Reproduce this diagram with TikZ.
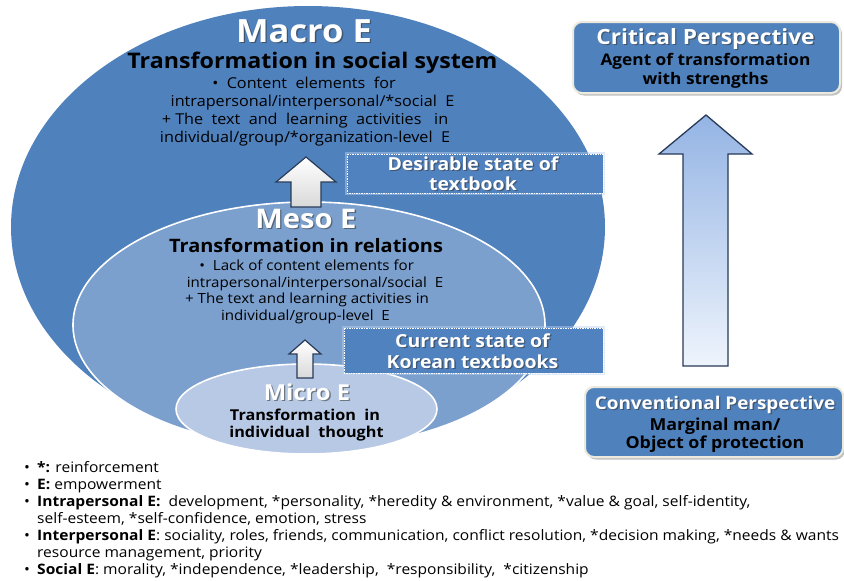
\documentclass[tikz,border=0pt]{standalone}
\usepackage{fontspec}
\setmainfont{Open Sans}[FakeStretch=1.08]
\usetikzlibrary{shapes.geometric,shadows}
\definecolor{macroblue}{RGB}{79,129,189}
\definecolor{mesoblue}{RGB}{123,160,206}
\definecolor{microblue}{RGB}{183,201,228}
\definecolor{boxblue}{RGB}{80,130,191}
\definecolor{glow}{RGB}{190,210,240}
\definecolor{edgecream}{RGB}{236,234,222}
\definecolor{arrowtop}{RGB}{148,180,228}
\definecolor{arrowbot}{RGB}{238,244,252}
\definecolor{navy}{RGB}{40,58,88}
\newcommand\shtitle[5]{%
  \node[anchor=base,inner sep=0pt,text=black!80,opacity=0.55,font=\bfseries\fontsize{#4}{#4}\selectfont] (#1s) at (#2+1.3,#3+1.3) {#5};
  \node[anchor=base,inner sep=0pt,text=white,font=\bfseries\fontsize{#4}{#4}\selectfont] (#1) at (#2,#3) {#5};}
\begin{document}
\begin{tikzpicture}[x=1pt,y=-1pt,
  txt/.style={anchor=base,inner sep=0pt,font=\fontsize{#1}{#1}\selectfont},
  bld/.style={anchor=base,inner sep=0pt,font=\bfseries\fontsize{#1}{#1}\selectfont},
  leg/.style={anchor=base west,inner sep=0pt,font=\fontsize{14.4}{14.4}\selectfont},
  lvl/.style={ellipse,inner sep=0pt,draw=white,line width=1.6pt},
  statebox/.style={rectangle,inner sep=0pt,fill=boxblue,draw=white,densely dotted,line width=0.7pt,
    preaction={draw=glow,solid,line width=4pt,opacity=0.45}},
  persp/.style={rectangle,rounded corners=9pt,inner sep=0pt,fill=macroblue,draw=edgecream,line width=2pt,
    drop shadow={shadow xshift=2pt,shadow yshift=-2.5pt,opacity=0.4,fill=black!60}},
  whitearrow/.style={draw=navy,line width=1.2pt,top color=white,bottom color=gray!30},
]
\useasboundingbox[fill=white] (0,0) rectangle (844,581);

% ellipses
\node[ellipse,inner sep=0pt,fill=macroblue,minimum width=594pt,minimum height=442pt] (macro) at (308,227) {};
\node[lvl,fill=mesoblue,minimum width=472pt,minimum height=246pt] (meso) at (309,325) {};
\node[lvl,fill=microblue,minimum width=261pt,minimum height=90pt] (micro) at (306.5,409) {};

% state boxes
\node[statebox,minimum width=256pt,minimum height=39pt] (desire) at (475,173.5) {};
\node[statebox,minimum width=259pt,minimum height=45pt] (current) at (473.5,350.5) {};
\shtitle{desireA}{473}{170}{18}{Desirable state of}
\shtitle{desireB}{473}{190}{18}{textbook}
\shtitle{currentA}{472.5}{347}{18}{Current state of}
\shtitle{currentB}{472.5}{368}{18}{Korean textbooks}

% white arrows between levels
\path[whitearrow] (306,157) -- (336,182) -- (321,182) -- (321,207) -- (291,207) -- (291,182) -- (276,182) -- cycle;
\path[whitearrow] (305,340) -- (321,354) -- (313,354) -- (313,378) -- (297,378) -- (297,354) -- (289,354) -- cycle;

% Macro text
\shtitle{macroT}{304}{42}{32}{Macro E}
\node[bld=21.5] (macroS) at (312.5,68) {Transformation in social system};
\node[txt=15] (macroB1) at (304,88) {•\ \ Content\ \ elements\ \ for};
\node[txt=15] (macroB2) at (312.5,106) {intrapersonal/interpersonal/*social\ \ E};
\node[txt=15] (macroB3) at (305,124.5) {+\ The\ \ text\ \ and\ \ learning\ \ activities\ \ \ in};
\node[txt=15] (macroB4) at (305,142.5) {individual/group/*organization-level\ \ E};

% Meso text
\shtitle{mesoT}{306}{228}{27}{Meso E}
\node[bld=18.5] (mesoS) at (306,252) {Transformation in relations};
\node[txt=14] (mesoB1) at (306.7,270) {•\ \ Lack of content elements for};
\node[txt=14] (mesoB2) at (315,287) {intrapersonal/interpersonal/social\ \ E};
\node[txt=14] (mesoB3) at (307,303.5) {+ The text and learning activities in};
\node[txt=14] (mesoB4) at (305.5,320) {individual/group-level\ \ E};

% Micro text
\shtitle{microT}{307}{400}{22}{Micro E}
\node[bld=15] (microS1) at (305,420) {Transformation\ \ in};
\node[bld=15] (microS2) at (306.5,437) {individual\ \ thought};

% perspectives
\node[persp,minimum width=267pt,minimum height=71pt] (critical) at (706.5,57.5) {};
\shtitle{criticalT}{705.5}{44}{21}{Critical Perspective}
\node[bld=16] (criticalA) at (705.5,65) {Agent of transformation};
\node[bld=16] (criticalB) at (705.5,84) {with strengths};

\node[persp,minimum width=258pt,minimum height=70pt] (conv) at (714,422) {};
\shtitle{convT}{715}{409}{17.5}{Conventional Perspective}
\node[bld=16.5] (convA) at (715,430) {Marginal man/};
\node[bld=16.5] (convB) at (715,448) {Object of protection};

% big arrow
\shadedraw[top color=arrowtop,bottom color=arrowbot,draw=navy,line width=1.3pt]
  (706,115) -- (752,154) -- (728,154) -- (728,366) -- (683,366) -- (683,154) -- (659,154) -- cycle;

% legend
\foreach \yy/\nm in {472/b1,489/b2,506/b3,540/b4,574/b5}
  \node[leg] (\nm) at (24,\yy) {•};
\node[leg] (l1) at (37,472) {\textbf{*:} reinforcement};
\node[leg] (l2) at (37,489) {\textbf{E:} empowerment};
\node[leg] (l3) at (37,506) {\textbf{Intrapersonal E:}\ \ development, *personality, *heredity \& environment, *value \& goal, self-identity,};
\node[leg] (l4) at (37,523) {self-esteem, *self-confidence, emotion, stress};
\node[leg] (l5) at (37,540) {\textbf{Interpersonal E}: sociality, roles, friends, communication, conflict resolution, *decision making, *needs \& wants};
\node[leg] (l6) at (37,557) {resource management, priority};
\node[leg] (l7) at (37,574) {\textbf{Social E}: morality, *independence, *leadership,\ \ *responsibility,\ \ *citizenship};
\end{tikzpicture}
\end{document}
